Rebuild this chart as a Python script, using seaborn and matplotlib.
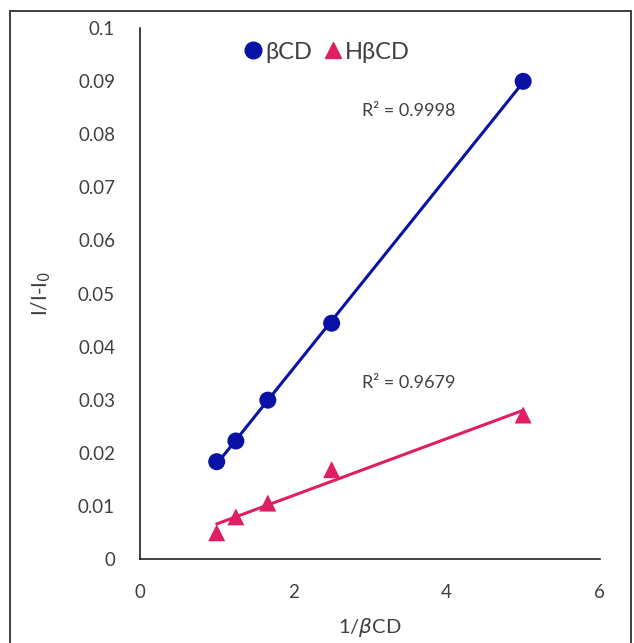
import numpy as np
import pandas as pd
import matplotlib
matplotlib.use("Agg")
import matplotlib.pyplot as plt
import seaborn as sns
from matplotlib.lines import Line2D
from matplotlib.patches import Rectangle

# data
inv_cd = [1.0, 1.25, 1.667, 2.5, 5.0]
bcd_vals = [0.0183, 0.0222, 0.0299, 0.0444, 0.0900]
hbcd_vals = [0.0049, 0.0079, 0.0105, 0.0168, 0.0271]
series_names = ["βCD", "HβCD"]
r2_labels = ["R² = 0.9998", "R² = 0.9679"]
ytick_labels = ["0", "0.01", "0.02", "0.03", "0.04", "0.05", "0.06", "0.07", "0.08", "0.09", "0.1"]

blue = "#0A12A6"
pink = "#E01E63"
txt = "#404040"

sns.set_theme(style="white")
plt.rcParams["font.family"] = ["Lato", "DejaVu Sans"]

df = pd.DataFrame({
    "x": inv_cd * 2,
    "y": bcd_vals + hbcd_vals,
    "series": [series_names[0]] * 5 + [series_names[1]] * 5,
})

fig = plt.figure(figsize=(6.34, 6.43), dpi=100)
ax = fig.add_axes([0.221, 0.131, 0.725, 0.825])

for name, col, mk, ms in [(series_names[0], blue, "o", 150), (series_names[1], pink, "^", 150)]:
    sub = df[df["series"] == name]
    # linear trendline over the data range, like Excel
    sns.regplot(data=sub, x="x", y="y", ax=ax, ci=None, truncate=True, scatter=False,
                line_kws={"color": col, "lw": 2.2})
    sns.scatterplot(data=sub, x="x", y="y", ax=ax, color=col, marker=mk, s=ms,
                    edgecolor="none", zorder=5)

ax.set_xlim(0, 6)
ax.set_ylim(0, 0.1)
ax.set_xticks([0, 2, 4, 6])
ax.set_yticks(np.linspace(0, 0.1, 11))
ax.set_yticklabels(ytick_labels)
ax.tick_params(axis="both", labelsize=13.5, colors=txt, length=0)
ax.tick_params(axis="x", pad=18)
ax.tick_params(axis="y", pad=18)
for s in ["top", "right"]:
    ax.spines[s].set_visible(False)
for s in ["left", "bottom"]:
    ax.spines[s].set_color("#202020")
    ax.spines[s].set_linewidth(1.2)

ax.set_xlabel("1/$\\mathit{\\beta}$CD", fontsize=14.5, color=txt, labelpad=11)
ax.set_ylabel("I/I-I$_0$", fontsize=15, color=txt, labelpad=18)

ax.text(2.9, 0.0845, r2_labels[0], fontsize=13, color=txt, va="center")
ax.text(2.9, 0.0331, r2_labels[1], fontsize=13, color=txt, va="center")

handles = [
    Line2D([], [], marker="o", color=blue, ls="none", markersize=12),
    Line2D([], [], marker="^", color=pink, ls="none", markersize=12),
]
ax.legend(handles, series_names, loc="center left", bbox_to_anchor=(0.2, 0.955), ncol=2,
          frameon=False, handletextpad=0.0, columnspacing=0.4, fontsize=17,
          labelcolor=txt, handlelength=1.0, borderaxespad=0)

fig.patches.append(Rectangle((10 / 634, -0.01), 621 / 634, 1 - 11 / 643 + 0.01,
                             transform=fig.transFigure, fill=False, ec="#303030", lw=1.3))

fig.savefig("out.png", dpi=100)
